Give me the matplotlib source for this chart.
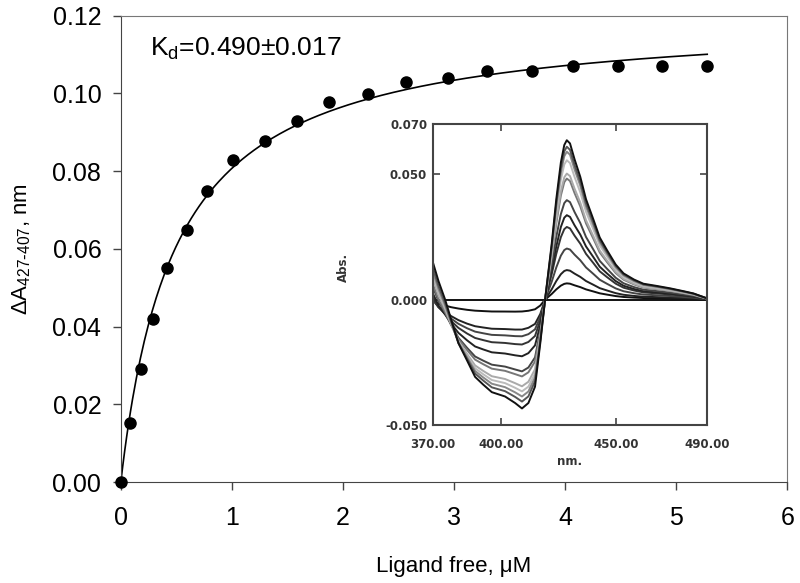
import numpy as np
import matplotlib.pyplot as plt

plt.rcParams['font.family'] = ['Liberation Sans', 'DejaVu Sans']

# titration data (free ligand, uM ; delta A 427-407)
ligand_free = [0.0, 0.087, 0.18, 0.29, 0.42, 0.60, 0.775, 1.006, 1.297, 1.583, 1.874,
               2.228, 2.568, 2.95, 3.30, 3.706, 4.075, 4.48, 4.877, 5.276]
delta_abs = [0.0, 0.0151, 0.029, 0.0419, 0.055, 0.0649, 0.0748, 0.0829, 0.0879, 0.0930,
             0.0979, 0.0999, 0.1029, 0.1040, 0.1059, 0.1059, 0.1070, 0.1070, 0.1070, 0.1070]

# hyperbolic fit from the chart
kd = 0.490
bmax = 0.1203
fit_xmax = 5.28

# inset difference spectra: shapes (normalised)
neg_wl = [370, 372.5, 375.4, 378, 381.2, 385, 388.5, 392, 395.8, 401.6, 406, 409, 411.8, 414.7, 417, 419.1]
neg_deep = [0.346, 0.17, 0.0, -0.18, -0.40, -0.56, -0.71, -0.78, -0.85, -0.89, -0.95, -1.0, -0.95, -0.80, -0.40, 0.0]
neg_shallow = [-0.15, -0.40, -0.55, -0.68, -0.78, -0.88, -0.94, -0.97, -1.0, -1.0, -1.0, -0.98, -0.92, -0.80, -0.50, 0.0]
pos_wl = [419.1, 422, 424, 426, 427.5, 428.6, 430, 432, 434.5, 437, 440.3, 443, 446.2, 450,
          453.4, 458, 462.1, 468, 473.8, 480, 484, 490]
pos_shape = [0.0, 0.35, 0.63, 0.86, 0.97, 1.0, 0.98, 0.88, 0.77, 0.63, 0.50, 0.39, 0.31, 0.22,
             0.165, 0.126, 0.10, 0.086, 0.071, 0.052, 0.039, 0.008]
# per-spectrum peak (~428 nm) and trough (~409 nm) heights
peaks = [0.0, 0.0065, 0.0118, 0.0204, 0.0290, 0.0337, 0.0397, 0.0483, 0.0503, 0.0556, 0.0590, 0.0610, 0.0636]
troughs = [0.0, 0.0048, 0.0121, 0.0148, 0.0181, 0.0228, 0.0288, 0.0308, 0.0347, 0.0367, 0.0387, 0.0407, 0.0434]
spec_colors = ['#111111', '#111111', '#222222', '#444444', '#333333', '#222222', '#444444',
               '#777777', '#aaaaaa', '#bbbbbb', '#888888', '#555555', '#111111']

fig = plt.figure(figsize=(8, 5.83), dpi=100)
ax = fig.add_axes([0.151, 0.173, 0.833, 0.80])

xf = np.linspace(0, fit_xmax, 300)
ax.plot(xf, bmax * xf / (kd + xf), color='black', lw=1.2, zorder=2)
ax.plot(ligand_free, delta_abs, 'o', color='black', ms=8, clip_on=False, zorder=3)

ax.set_xlim(0, 6)
ax.set_ylim(0, 0.12)
ax.set_xticks(range(7))
ax.set_yticks(np.arange(0, 0.121, 0.02))
ax.yaxis.set_major_formatter(plt.FormatStrFormatter('%.2f'))
ax.tick_params(axis='both', direction='out', length=6, width=1, color='#444444', labelsize=18)
ax.tick_params(axis='x', pad=11)
ax.tick_params(axis='y', pad=8)
for s in ['left', 'bottom']:
    ax.spines[s].set_color('#444444')
for s in ['top', 'right']:
    ax.spines[s].set_color('#777777')
ax.set_xlabel(r'Ligand free, μM', fontsize=16, labelpad=19)
ax.set_ylabel(r'ΔA$_{\mathregular{427\text{-}407}}$, nm', fontsize=16, labelpad=14)
ax.text(0.26, 0.1115, r'K$_{\mathregular{d}}$=0.490±0.017', fontsize=19, ha='left', va='center')

# inset
ins = fig.add_axes([0.541, 0.271, 0.343, 0.516])
max_trough = max(troughs)
for pk, tr, c in zip(peaks, troughs, spec_colors):
    w = tr / max_trough
    neg = tr * (w * np.array(neg_deep) + (1 - w) * np.array(neg_shallow))
    pos = pk * np.array(pos_shape)
    wl = neg_wl + pos_wl[1:]
    vals = np.concatenate([neg, pos[1:]])
    ins.plot(wl, vals, color=c, lw=1.4)

ins.set_xlim(370, 490)
ins.set_ylim(-0.05, 0.07)
ins.set_xticks([370, 400, 450, 490])
ins.set_xticklabels(['370.00', '400.00', '450.00', '490.00'])
ins.set_yticks([-0.05, 0.0, 0.05, 0.07])
ins.set_yticklabels(['-0.050', '0.000', '0.050', '0.070'])
ins.tick_params(axis='both', direction='in', length=5, width=1.2, color='#444444',
                top=True, right=True, labelsize=8.5, labelcolor='#333333')
ins.tick_params(axis='x', pad=9)
ins.tick_params(axis='y', pad=4)
for lab in ins.get_xticklabels() + ins.get_yticklabels():
    lab.set_fontfamily('DejaVu Sans')
    lab.set_fontweight('bold')
for s in ins.spines.values():
    s.set_color('#444444')
    s.set_linewidth(1.5)
ins.set_xlabel('nm.', fontsize=8.5, fontweight='bold', family='DejaVu Sans', color='#333333', labelpad=3)
fig.text(343 / 800, 1 - 267 / 583, 'Abs.', rotation=90, fontsize=8.5, fontweight='bold',
         family='DejaVu Sans', color='#333333', ha='center', va='center')

fig.savefig('out.png', dpi=100)
